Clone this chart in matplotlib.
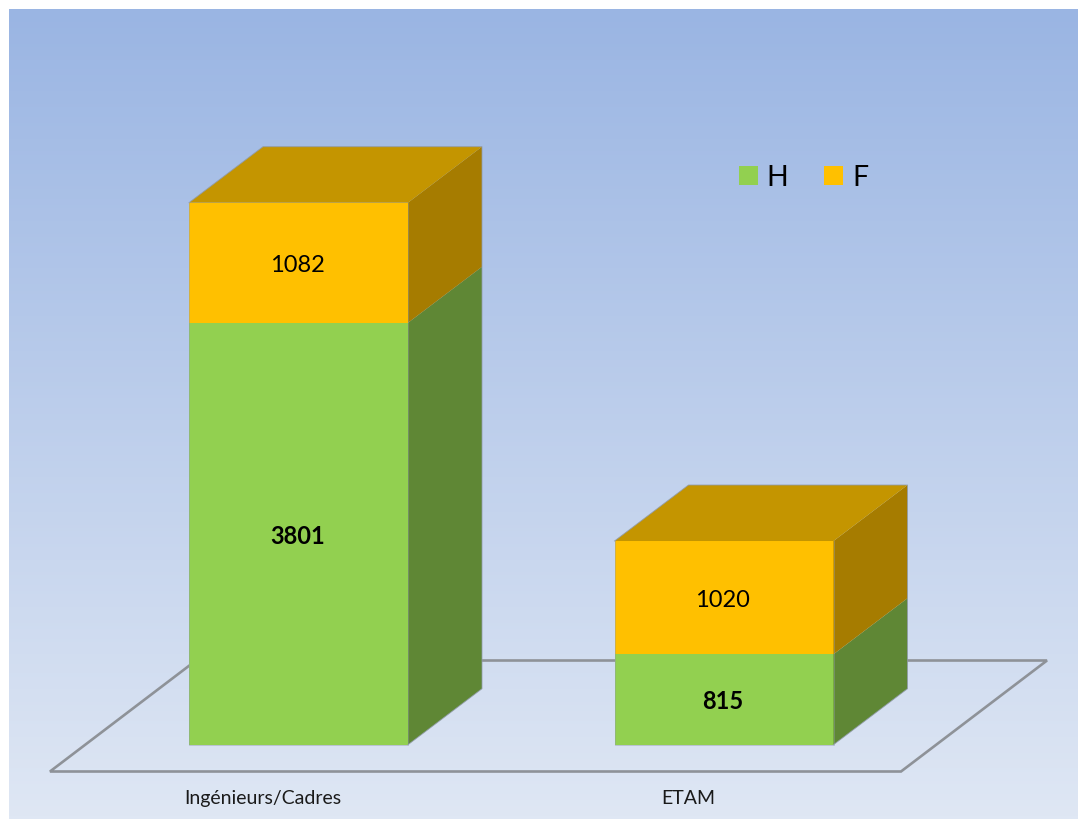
import numpy as np
import matplotlib
matplotlib.use("Agg")
import matplotlib.pyplot as plt
from matplotlib.patches import Polygon, Rectangle
from matplotlib.colors import LinearSegmentedColormap

categories = ["Ingénieurs/Cadres", "ETAM"]
series_names = ["H", "F"]
h_values = [3801, 815]
f_values = [1082, 1020]

W, H = 1078, 820
# pixel calibration of the chart
x0_px = 298.5      # centre of first bar
step_px = 425.5    # distance between categories
base_px = 745.7    # y of value 0
unit_px = 0.111    # pixels per unit
bar_w = 219 / step_px
dx = 74 / step_px       # depth of the boxes
dy = 56 / unit_px

plt.rcParams['font.family'] = ['Lato', 'DejaVu Sans']

fig = plt.figure(figsize=(W / 100, H / 100), dpi=100, facecolor="white")
ax = fig.add_axes([0, 0, 1, 1])
ax.axis("off")
xlim = ((0 - x0_px) / step_px, (W - x0_px) / step_px)
ylim = ((base_px - H) / unit_px, base_px / unit_px)


def px(x, y):
    # picture pixels to data coordinates, for the decoration only
    return (x - x0_px) / step_px, (base_px - y) / unit_px


# background gradient
cmap = LinearSegmentedColormap.from_list("bg", ["#9AB5E3", "#DFE7F4"])
grad = np.linspace(0, 1, 256).reshape(-1, 1)
l, t = px(9, 10)
r, b = px(W, H)
ax.imshow(grad, cmap=cmap, extent=[l, r, b, t], aspect="auto", zorder=0)

# floor
floor = [px(50, 772.5), px(901, 772.5), px(1047, 661.5), px(196, 661.5)]
ax.add_patch(Polygon(floor, closed=True, fill=False, edgecolor="#8E9298", lw=1.9,
                     joinstyle="miter", zorder=1))

GREEN = "#92D050"
GREEN_SIDE = "#5F8735"
AMBER = "#FFC000"
AMBER_SIDE = "#A67C00"
AMBER_TOP = "#C49500"
EDGE = "#8F9AA8"


def box(x, bottom, height, front, side, top=None):
    left = x - bar_w / 2
    right = x + bar_w / 2
    upper = bottom + height
    ax.add_patch(Rectangle((left, bottom), bar_w, height, facecolor=front,
                           edgecolor="none", zorder=3))
    ax.add_patch(Polygon([(right, bottom), (right + dx, bottom + dy),
                          (right + dx, upper + dy), (right, upper)],
                         facecolor=side, edgecolor="none", zorder=3))
    if top is not None:
        ax.add_patch(Polygon([(left, upper), (right, upper),
                              (right + dx, upper + dy), (left + dx, upper + dy)],
                             facecolor=top, edgecolor="none", zorder=3))


label_y = px(0, 799)[1]
label_x = [px(263, 0)[0], px(688, 0)[0]]

for i in range(len(categories)):
    box(i, 0, h_values[i], GREEN, GREEN_SIDE)
    box(i, h_values[i], f_values[i], AMBER, AMBER_SIDE, AMBER_TOP)

    # thin outline round the whole box
    left, right = i - bar_w / 2, i + bar_w / 2
    total = h_values[i] + f_values[i]
    ax.plot([left, left, right, right], [total, 0, 0, total],
            color=EDGE, lw=0.6, alpha=0.5, zorder=4)
    ax.plot([left, left + dx, right + dx, right + dx, right],
            [total, total + dy, total + dy, dy, 0],
            color=EDGE, lw=0.7, alpha=0.8, zorder=4)

    xt = i - 1.2 / step_px
    ax.text(xt, h_values[i] / 2 - 1.5 / unit_px, str(h_values[i]), ha="center", va="center",
            fontsize=17, fontweight="bold", color="black", zorder=5)
    ax.text(xt, h_values[i] + f_values[i] / 2 - 1.5 / unit_px, str(f_values[i]), ha="center",
            va="center", fontsize=17, color="black", zorder=5)
    ax.text(label_x[i], label_y, categories[i], ha="center",
            va="center", fontsize=14, color="#1a1a1a", zorder=5)

# legend
for (lx, tx), name, col in zip([(739, 766), (824, 852)], series_names, [GREEN, AMBER]):
    x1, y1 = px(lx, 186)
    x2, y2 = px(lx + 19, 167)
    ax.add_patch(Rectangle((x1, y1), x2 - x1, y2 - y1, facecolor=col, edgecolor="none", zorder=5))
    ax.text(px(tx, 0)[0], px(0, 178)[1], name, ha="left", va="center",
            fontsize=20.5, color="black", zorder=5)

ax.set_xlim(xlim)
ax.set_ylim(ylim)
fig.savefig("out.png", dpi=100, facecolor="white")
